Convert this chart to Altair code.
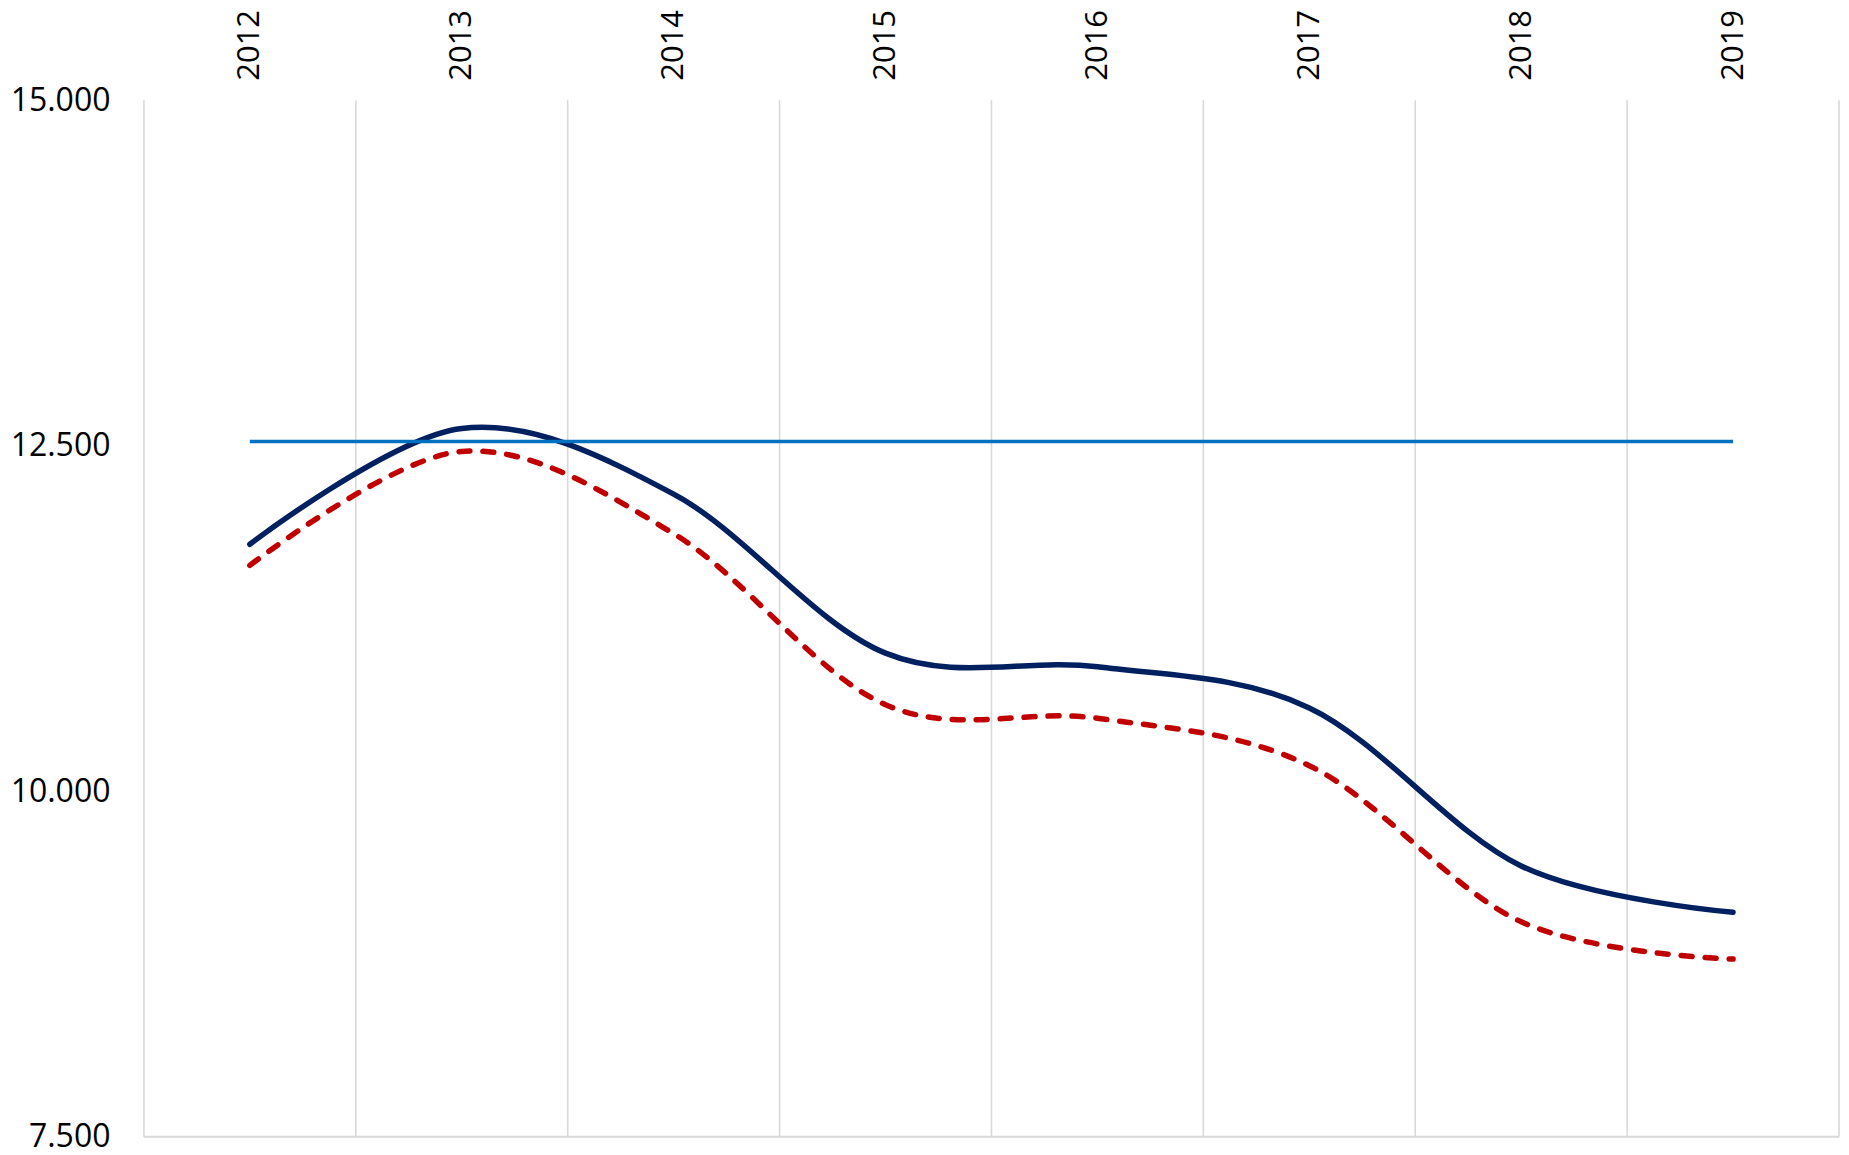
import altair as alt
import pandas as pd

# ---- data ----
years = [2012, 2013, 2014, 2015, 2016, 2017, 2018, 2019]
series_solid = [11787, 12625, 12150, 10999, 10900, 10603, 9459, 9124]   # navy solid line
series_dashed = [11634, 12459, 11864, 10626, 10528, 10185, 9055, 8785]  # red dashed line
reference_line = [12530, 12530, 12530, 12530, 12530, 12530, 12530, 12530]  # blue flat line
band_edges = [2011.5, 2012.5, 2013.5, 2014.5, 2015.5, 2016.5, 2017.5, 2018.5, 2019.5]
y_ticks = [7500, 10000, 12500, 15000]
y_min, y_max = 7500, 15000

df = pd.DataFrame({
    "year": years,
    "solid": series_solid,
    "dashed": series_dashed,
    "ref": reference_line,
})

FONT = "Open Sans"

x_scale = alt.Scale(domain=[band_edges[0], band_edges[-1]], nice=False, zero=False)
y_scale = alt.Scale(domain=[y_min, y_max], nice=False, zero=False)

x_axis = alt.Axis(
    orient="top", values=years, format="d", labelAngle=-90,
    labelAlign="left", labelBaseline="middle", labelPadding=20,
    ticks=False, tickSize=0, domain=False, grid=False, title=None,
    labelFont=FONT, labelFontSize=31, labelColor="#000000",
)
y_axis = alt.Axis(
    values=y_ticks,
    labelExpr="replace(format(datum.value, ','), ',', '.')",
    ticks=False, tickSize=0, domain=False, grid=False, title=None,
    labelPadding=34, labelFont=FONT, labelFontSize=32, labelColor="#000000",
)

grid = alt.Chart(pd.DataFrame({"edge": band_edges})).mark_rule(
    color="#D9D9D9", strokeWidth=1.6
).encode(x=alt.X("edge:Q", scale=x_scale, axis=x_axis))

bottom = alt.Chart(pd.DataFrame({"v": [y_min]})).mark_rule(
    color="#D9D9D9", strokeWidth=2
).encode(y=alt.Y("v:Q", scale=y_scale, axis=y_axis))

base = alt.Chart(df)

dashed = base.mark_line(
    color="#C00000", strokeWidth=5.5, strokeDash=[11, 13], strokeCap="round",
    interpolate="cardinal", tension=0,
).encode(x=alt.X("year:Q", scale=x_scale), y=alt.Y("dashed:Q", scale=y_scale))

solid = base.mark_line(
    color="#002060", strokeWidth=5.5, strokeCap="round",
    interpolate="cardinal", tension=0,
).encode(x=alt.X("year:Q", scale=x_scale), y=alt.Y("solid:Q", scale=y_scale))

ref = base.mark_line(
    color="#0070C0", strokeWidth=3.5,
).encode(x=alt.X("year:Q", scale=x_scale), y=alt.Y("ref:Q", scale=y_scale))

chart = alt.layer(grid, bottom, dashed, solid, ref).properties(
    width=1696, height=1037,
    autosize=alt.AutoSizeParams(type="none"),
    padding={"left": 136, "top": 92, "right": 2, "bottom": 10},
    background="white",
).configure_view(stroke=None)

chart.save("out.html", embed_options={"renderer": "svg", "actions": False})
